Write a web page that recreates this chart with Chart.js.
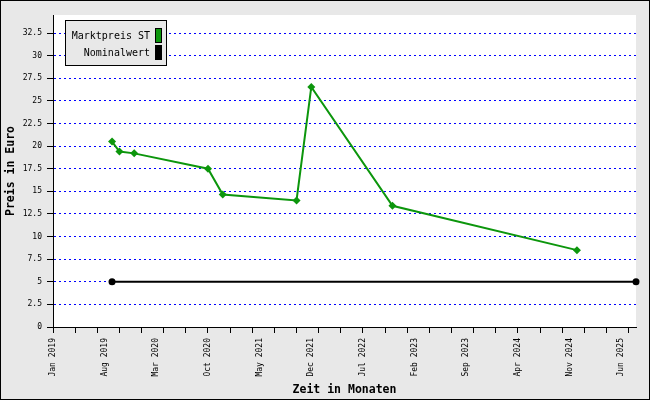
<!DOCTYPE html>
<html>
<head>
<meta charset="utf-8">
<script src="https://cdn.jsdelivr.net/npm/chart.js@4"></script>
<style>
  html, body { margin: 0; padding: 0; background: #e8e8e8; }
  #c { display: block; }
</style>
</head>
<body>
<canvas id="c" width="650" height="400"></canvas>
<script>
// Months counted from Jan 2019 (0 = Jan 2019)
const MARKT_MONTHS = [8, 9, 11, 21, 23, 33, 35, 46, 71];
const MARKT_VALUES = [20.5, 19.4, 19.2, 17.5, 14.65, 14.0, 26.55, 13.4, 8.5];
const NOMINAL_MONTHS = [8, 79];
const NOMINAL_VALUES = [5, 5];

const X_TICK_MONTHS = [0, 3, 6, 9, 12, 15, 18, 21, 24, 27, 30, 33, 36, 39, 42, 45, 48, 51, 54, 57, 60, 63, 66, 69, 72, 75, 78];
const X_LABEL_MONTHS = [0, 7, 14, 21, 28, 35, 42, 49, 56, 63, 70, 77];
const X_LABELS = ['Jan 2019', 'Aug 2019', 'Mar 2020', 'Oct 2020', 'May 2021', 'Dec 2021',
                  'Jul 2022', 'Feb 2023', 'Sep 2023', 'Apr 2024', 'Nov 2024', 'Jun 2025'];
const Y_TICKS = [0, 2.5, 5, 7.5, 10, 12.5, 15, 17.5, 20, 22.5, 25, 27.5, 30, 32.5];

const GREEN = '#0c960c';
const MONO = "'DejaVu Sans Mono', monospace";

// gray page, white plot area, frame round everything
const backgroundPlugin = {
  id: 'bg',
  beforeDraw(chart) {
    const { ctx, chartArea: a } = chart;
    ctx.save();
    ctx.fillStyle = '#e8e8e8';
    ctx.fillRect(0, 0, chart.width, chart.height);
    ctx.fillStyle = '#ffffff';
    ctx.fillRect(a.left, a.top, a.right - a.left, a.bottom - a.top);
    ctx.restore();
  },
  afterDraw(chart) {
    const { ctx } = chart;
    ctx.save();
    ctx.strokeStyle = '#000';
    ctx.lineWidth = 1;
    ctx.strokeRect(0.5, 0.5, chart.width - 1, chart.height - 1);
    ctx.restore();
  }
};

// legend box inside the plot, text right-aligned with a swatch
const legendPlugin = {
  id: 'boxLegend',
  afterDraw(chart) {
    const { ctx } = chart;
    const x = 65.5, y = 20.5, w = 101, h = 45;
    ctx.save();
    ctx.fillStyle = '#e8e8e8';
    ctx.fillRect(x, y, w, h);
    ctx.strokeStyle = '#000';
    ctx.lineWidth = 1;
    ctx.strokeRect(x, y, w, h);
    ctx.font = '10px ' + MONO;
    ctx.textAlign = 'right';
    ctx.textBaseline = 'middle';
    chart.data.datasets.forEach((ds, i) => {
      const cy = 36 + i * 17;
      ctx.fillStyle = '#000';
      ctx.fillText(ds.label, 150, cy);
      ctx.fillStyle = ds.borderColor;
      ctx.fillRect(155.5, cy - 7.5, 6, 14);
      ctx.strokeRect(155.5, cy - 7.5, 6, 14);
    });
    ctx.restore();
  }
};

const markt = MARKT_MONTHS.map((m, i) => ({ x: m, y: MARKT_VALUES[i] }));
const nominal = NOMINAL_MONTHS.map((m, i) => ({ x: m, y: NOMINAL_VALUES[i] }));

new Chart(document.getElementById('c').getContext('2d'), {
  type: 'line',
  data: {
    datasets: [
      {
        label: 'Marktpreis ST',
        data: markt,
        borderColor: GREEN,
        backgroundColor: GREEN,
        borderWidth: 2,
        pointStyle: 'rectRot',
        pointRadius: 4,
        pointBorderWidth: 0,
        tension: 0,
        xAxisID: 'x',
      },
      {
        label: 'Nominalwert',
        data: nominal,
        borderColor: '#000000',
        backgroundColor: '#000000',
        borderWidth: 2,
        pointStyle: 'circle',
        pointRadius: 3.5,
        pointBorderWidth: 0,
        tension: 0,
        clip: 6,
        xAxisID: 'x',
      },
    ],
  },
  options: {
    responsive: false,
    animation: false,
    layout: { padding: { top: 15, right: 14, left: 0, bottom: 0 } },
    plugins: { legend: { display: false }, tooltip: { enabled: false } },
    scales: {
      x: {
        type: 'linear',
        position: 'bottom',
        weight: 0,
        min: 0,
        max: 79,
        afterBuildTicks: s => { s.ticks = X_TICK_MONTHS.map(v => ({ value: v })); },
        afterFit: s => { s.height = 6; },
        ticks: { display: false },
        grid: { drawOnChartArea: false, tickLength: 6, tickColor: '#000', tickWidth: 1 },
        border: { color: '#000', width: 1 },
      },
      x2: {
        type: 'linear',
        position: 'bottom',
        weight: 1,
        min: 0,
        max: 79,
        afterBuildTicks: s => { s.ticks = X_LABEL_MONTHS.map(v => ({ value: v })); },
        afterFit: s => { s.height = 67; },
        grid: { display: false, drawTicks: false },
        border: { display: false },
        ticks: {
          autoSkip: false,
          minRotation: 90,
          maxRotation: 90,
          padding: 5,
          color: '#000',
          font: { family: MONO, size: 8 },
          callback: v => X_LABELS[X_LABEL_MONTHS.indexOf(v)],
        },
        title: {
          display: true,
          text: 'Zeit in Monaten',
          color: '#000',
          font: { family: MONO, size: 11.5, weight: 'bold' },
          padding: { top: 0, bottom: 3 },
        },
      },
      y: {
        type: 'linear',
        min: 0,
        max: 34.5,
        afterBuildTicks: s => { s.ticks = Y_TICKS.map(v => ({ value: v })); },
        afterFit: s => { s.width = 53; },
        ticks: {
          padding: 5,
          color: '#000',
          font: { family: MONO, size: 8 },
          callback: v => String(v),
        },
        grid: {
          color: c => (c.tick && c.tick.value === 0 ? 'rgba(0,0,0,0)' : '#0000ff'),
          lineWidth: 1,
          tickLength: 6,
          tickColor: '#000',
          tickBorderDash: [],
        },
        border: { color: '#000', width: 1, dash: [2, 3] },
        title: {
          display: true,
          text: 'Preis in Euro',
          color: '#000',
          font: { family: MONO, size: 11.5, weight: 'bold' },
          padding: { top: 4, bottom: 0 },
        },
      },
    },
  },
  plugins: [backgroundPlugin, legendPlugin],
});
</script>
</body>
</html>
